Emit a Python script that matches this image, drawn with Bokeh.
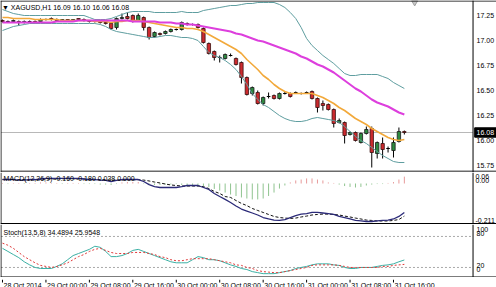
from bokeh.plotting import figure
from bokeh.layouts import column
from bokeh.models import Range1d, Span
from bokeh.core.properties import value
from bokeh.embed import file_html
from bokeh.resources import INLINE

FONT = "Liberation Sans"
FS = "7px"

# ---------------- data (hourly bars, 28 Oct 16:00 .. 31 Oct 18:00) ----------------
bars = list(range(75))
opens = [17.20,17.19,17.19,17.19,17.18,17.19,17.19,17.19,17.21,17.22,
         17.21,17.20,17.21,17.20,17.22,17.21,17.20,17.19,17.19,17.18,
         17.17,17.13,17.22,17.24,17.25,17.20,17.23,17.13,17.04,17.07,
         17.07,17.09,17.11,17.11,17.17,17.16,17.16,17.12,16.97,16.89,
         16.83,16.82,16.85,16.82,16.78,16.63,16.47,16.48,16.37,16.44,
         16.45,16.42,16.47,16.47,16.48,16.47,16.48,16.49,16.42,16.37,
         16.36,16.31,16.18,16.18,16.06,16.08,15.98,16.07,16.12,15.87,
         15.97,15.92,15.90,15.99,16.09]
highs = [17.21,17.20,17.21,17.20,17.20,17.20,17.20,17.22,17.22,17.23,
         17.22,17.21,17.21,17.21,17.22,17.22,17.20,17.20,17.19,17.19,
         17.17,17.23,17.27,17.28,17.26,17.27,17.24,17.14,17.09,17.08,
         17.10,17.12,17.12,17.19,17.18,17.17,17.17,17.13,16.98,16.90,
         16.85,16.87,16.87,16.83,16.79,16.64,16.54,16.50,16.44,16.48,
         16.46,16.48,16.49,16.48,16.49,16.48,16.49,16.50,16.43,16.40,
         16.37,16.32,16.22,16.19,16.09,16.09,16.08,16.14,16.14,15.99,
         16.03,15.94,16.03,16.13,16.10]
lows = [17.18,17.18,17.18,17.15,17.17,17.18,17.18,17.18,17.20,17.20,
        17.19,17.19,17.19,17.19,17.20,17.19,17.18,17.18,17.17,17.16,
        17.11,17.11,17.21,17.21,17.18,17.19,17.10,17.01,17.03,17.05,
        17.06,17.08,17.10,17.10,17.15,17.15,17.12,16.97,16.86,16.80,
        16.78,16.81,16.84,16.75,16.57,16.45,16.45,16.36,16.35,16.42,
        16.41,16.41,16.46,16.43,16.47,16.46,16.47,16.41,16.28,16.30,
        16.30,16.13,16.17,15.97,16.05,15.99,15.97,16.06,15.73,15.82,
        15.82,15.88,15.83,15.98,16.06]
closes = [17.19,17.19,17.20,17.18,17.19,17.19,17.18,17.21,17.21,17.21,
          17.20,17.21,17.20,17.21,17.21,17.20,17.19,17.19,17.18,17.17,
          17.12,17.22,17.23,17.22,17.19,17.25,17.13,17.03,17.08,17.06,
          17.09,17.11,17.11,17.18,17.16,17.16,17.13,16.98,16.87,16.83,
          16.83,16.86,16.85,16.76,16.63,16.46,16.53,16.37,16.43,16.44,
          16.42,16.47,16.47,16.44,16.48,16.47,16.48,16.42,16.33,16.35,
          16.31,16.17,16.20,16.05,16.08,16.00,16.07,16.11,15.88,15.98,
          15.91,15.92,15.98,16.09,16.08]
bb_upper = [17.31,17.29,17.27,17.26,17.25,17.25,17.25,17.25,17.25,17.25,
            17.25,17.25,17.25,17.25,17.25,17.25,17.23,17.21,17.21,17.21,
            17.22,17.24,17.26,17.28,17.29,17.29,17.29,17.29,17.28,17.28,
            17.28,17.28,17.28,17.29,17.28,17.28,17.28,17.30,17.31,17.32,
            17.33,17.34,17.35,17.35,17.36,17.37,17.37,17.38,17.38,17.38,
            17.38,17.36,17.33,17.28,17.22,17.13,17.02,16.95,16.90,16.85,
            16.81,16.77,16.72,16.67,16.65,16.65,16.66,16.66,16.66,16.66,
            16.64,16.62,16.58,16.55,16.52]
bb_lower = [17.10,17.12,17.14,17.15,17.16,17.17,17.17,17.17,17.17,17.17,
            17.17,17.17,17.17,17.17,17.17,17.17,17.17,17.17,17.16,17.14,
            17.11,17.09,17.08,17.07,17.06,17.05,17.04,17.03,17.03,17.04,
            17.05,17.05,17.04,17.03,17.03,17.02,17.00,16.94,16.88,16.85,
            16.83,16.80,16.76,16.71,16.64,16.56,16.47,16.41,16.36,16.33,
            16.29,16.25,16.22,16.20,16.19,16.19,16.20,16.22,16.23,16.22,
            16.21,16.20,16.18,16.14,16.09,16.04,16.00,15.97,15.93,15.89,
            15.85,15.82,15.79,15.78,15.78]
ma_fast = [17.23,17.23,17.22,17.22,17.22,17.22,17.21,17.21,17.21,17.21,
           17.21,17.20,17.20,17.20,17.20,17.20,17.20,17.19,17.19,17.19,
           17.18,17.19,17.19,17.20,17.20,17.20,17.19,17.18,17.17,17.16,
           17.15,17.14,17.13,17.13,17.12,17.12,17.11,17.09,17.06,17.03,
           17.00,16.97,16.94,16.91,16.87,16.81,16.76,16.71,16.65,16.61,
           16.56,16.52,16.49,16.47,16.47,16.47,16.47,16.47,16.45,16.43,
           16.40,16.37,16.33,16.30,16.26,16.22,16.19,16.16,16.12,16.09,
           16.06,16.03,16.01,16.00,16.01]
ma_slow = [17.18,17.18,17.18,17.18,17.18,17.18,17.18,17.18,17.18,17.18,
           17.19,17.19,17.19,17.19,17.20,17.20,17.20,17.20,17.20,17.20,
           17.20,17.20,17.20,17.20,17.19,17.19,17.19,17.19,17.19,17.18,
           17.18,17.18,17.17,17.17,17.16,17.16,17.15,17.14,17.13,17.12,
           17.11,17.10,17.09,17.07,17.06,17.04,17.02,17.00,16.99,16.97,
           16.95,16.93,16.91,16.89,16.87,16.84,16.82,16.79,16.76,16.74,
           16.71,16.68,16.64,16.60,16.56,16.52,16.49,16.45,16.41,16.38,
           16.36,16.34,16.31,16.28,16.26]
macd_main = [0.022,0.022,0.022,0.019,0.019,0.022,0.022,0.025,0.028,0.028,
             0.028,0.028,0.028,0.028,0.028,0.025,0.022,0.022,0.019,0.017,
             0.011,0.017,0.022,0.022,0.022,0.022,0.011,-0.006,-0.017,-0.022,
             -0.022,-0.022,-0.022,-0.017,-0.011,-0.011,-0.011,-0.022,-0.033,-0.055,
             -0.072,-0.088,-0.105,-0.124,-0.141,-0.152,-0.163,-0.174,-0.188,-0.196,
             -0.202,-0.204,-0.199,-0.188,-0.177,-0.169,-0.166,-0.160,-0.160,-0.163,
             -0.166,-0.171,-0.182,-0.188,-0.196,-0.204,-0.207,-0.210,-0.210,-0.207,
             -0.204,-0.202,-0.196,-0.182,-0.160]
macd_signal = [0.022,0.022,0.022,0.022,0.022,0.022,0.022,0.023,0.024,0.025,
               0.025,0.026,0.026,0.026,0.026,0.025,0.024,0.023,0.022,0.021,
               0.019,0.019,0.019,0.020,0.020,0.021,0.019,0.014,0.008,0.003,
               -0.003,-0.008,-0.011,-0.014,-0.014,-0.014,-0.014,-0.017,-0.028,-0.044,
               -0.055,-0.072,-0.077,-0.094,-0.110,-0.122,-0.138,-0.149,-0.160,-0.171,
               -0.182,-0.188,-0.191,-0.193,-0.191,-0.185,-0.180,-0.174,-0.171,-0.169,
               -0.169,-0.171,-0.174,-0.180,-0.185,-0.191,-0.196,-0.202,-0.204,-0.207,
               -0.207,-0.207,-0.204,-0.199,-0.180]
macd_hist = [0.003,-0.003,0.003,0.003,-0.003,0.003,0.003,0.006,0.006,0.003,
             0.003,-0.003,0.003,0.003,0.003,-0.003,-0.003,-0.003,-0.006,-0.006,
             -0.008,-0.003,0.006,0.008,0.008,0.008,-0.003,-0.006,-0.008,-0.008,
             -0.006,-0.006,-0.003,-0.008,-0.008,-0.008,-0.011,-0.014,-0.019,-0.030,
             -0.039,-0.050,-0.061,-0.069,-0.077,-0.083,-0.088,-0.088,-0.083,-0.069,
             -0.050,-0.028,-0.011,0.006,0.017,0.022,0.028,0.028,0.022,0.017,
             0.006,0.003,-0.006,-0.014,-0.019,-0.022,-0.019,-0.011,-0.006,-0.003,
             -0.003,0.003,0.008,0.022,0.038]
stoch_main = [57,51,45,39,31,25,20,18,18,18,
              22,27,35,43,47,51,55,61,59,51,
              41,41,43,47,53,55,51,47,43,39,
              35,31,29,29,29,35,41,39,35,35,
              33,29,25,22,18,16,12,10,8,8,
              8,10,12,14,18,20,22,25,27,27,
              27,25,24,20,18,18,20,20,20,22,
              24,25,27,31,34.49]
stoch_signal = [67,63,57,49,41,35,29,24,22,20,
                22,25,29,35,41,45,51,55,57,53,
                49,47,47,47,49,49,49,47,45,41,
                39,35,33,33,35,37,37,37,37,35,
                33,31,29,25,24,20,18,14,12,11,
                10,10,12,14,16,18,20,24,25,25,
                25,25,24,22,20,20,20,20,20,20,
                22,22,24,25,25.95]

price_ticks = [15.75, 16.00, 16.25, 16.50, 16.75, 17.00, 17.25]
price_tick_labels = ["15.75", "16.00", "16.25", "16.50", "16.75", "17.00", "17.25"]
last_price = 16.08
last_price_label = "16.08"
macd_tick_labels = ["0.06", "0.00", "-0.211"]
stoch_levels = [80, 20]
stoch_tick_labels = ["100", "80", "20", "0"]
time_tick_bars = [0, 8, 16, 24, 32, 40, 48, 56, 64, 72]
time_tick_labels = ["28 Oct 2014", "29 Oct 00:00", "29 Oct 08:00", "29 Oct 16:00",
                    "30 Oct 00:00", "30 Oct 08:00", "30 Oct 16:00", "31 Oct 00:00",
                    "31 Oct 08:00", "31 Oct 16:00"]
main_title = "\u25bc XAGUSD,H1  16.09 16.10 16.06 16.08"
macd_title = "MACD(12,26,9) -0.160 -0.180 0.038 0.000"
stoch_title = "Stoch(13,5,8) 34.4894 25.9548"

# ---------------- layout (positions, in bar units on x) ----------------
W = 496
xr = Range1d(-0.368, 90.97)     # full canvas width; price scale drawn inside
X_LEFT_BORDER = -0.28
X_RIGHT_BORDER = 86.65
X_SCALE_TEXT = 87.3
X_SCALE_TEXT_MACD = 87.1
X_BOX_LEFT = 86.95
X_BOX_RIGHT = 91.5


def make_fig(height, y0, y1):
    p = figure(width=W, height=height, x_range=xr, y_range=Range1d(y0, y1),
               output_backend="svg", toolbar_location=None,
               x_axis_location=None, y_axis_location=None, min_border=0)
    p.xgrid.visible = False
    p.ygrid.visible = False
    p.background_fill_color = "white"
    p.border_fill_color = "white"
    p.outline_line_color = None
    return p


def scale_text(p, x, ys, labels, color="black"):
    p.text(x=[x] * len(ys), y=ys, text=labels, text_align="left", text_baseline="middle",
           text_font=value(FONT), text_font_size=value(FS), text_color=color)


def title_text(p, x, y, label):
    p.text(x=[x], y=[y], text=[label], text_align="left", text_baseline="middle",
           text_font=value(FONT), text_font_size=value(FS), text_color="black")


def borders(p, top, bottom, top_w=1, bottom_w=1, top_c="black", bottom_c="black"):
    if top is not None:
        p.add_layout(Span(location=top, dimension="width", line_color=top_c, line_width=top_w))
    if bottom is not None:
        p.add_layout(Span(location=bottom, dimension="width", line_color=bottom_c, line_width=bottom_w))
    p.add_layout(Span(location=X_LEFT_BORDER, dimension="height", line_color="black", line_width=1))
    p.add_layout(Span(location=X_RIGHT_BORDER, dimension="height", line_color="black", line_width=1))


# ---------------- main price pane (canvas y 0..172) ----------------
main = make_fig(172, 15.68, 17.40)
borders(main, 17.395, 15.69, bottom_w=2, bottom_c="#6a6a6a")

main.segment(x0=[X_LEFT_BORDER], y0=[last_price], x1=[X_RIGHT_BORDER], y1=[last_price],
             line_color="#b8b8b8", line_width=1)

main.segment(x0=bars, y0=lows, x1=bars, y1=highs, line_color="black", line_width=1)
bull = [i for i in bars if closes[i] > opens[i] + 0.004]
bear = [i for i in bars if closes[i] < opens[i] - 0.004]
doji = [i for i in bars if abs(closes[i] - opens[i]) <= 0.004]
main.vbar(x=bull, width=0.62, top=[closes[i] for i in bull], bottom=[opens[i] for i in bull],
          fill_color="#2d8a40", line_color="#1a1a1a", line_width=0.8)
main.vbar(x=bear, width=0.62, top=[opens[i] for i in bear], bottom=[closes[i] for i in bear],
          fill_color="#cc2a2e", line_color="#3a1010", line_width=0.8)
main.segment(x0=[i - 0.33 for i in doji], y0=[closes[i] for i in doji],
             x1=[i + 0.33 for i in doji], y1=[closes[i] for i in doji],
             line_color="black", line_width=1)

main.line(bars, bb_upper, line_color="#5f9ea0", line_width=1)
main.line(bars, bb_lower, line_color="#5f9ea0", line_width=1)
main.line(bars, ma_fast, line_color="#f2a93b", line_width=1.6)
main.line(bars, ma_slow, line_color="#dd3fdd", line_width=2)

title_text(main, -0.1, 17.33, main_title)
main.scatter(x=[75.9], y=[17.38], marker="inverted_triangle", size=6,
             fill_color="#c8c8c8", line_color="#a0a0a0")

scale_text(main, X_SCALE_TEXT, price_ticks, price_tick_labels)
main.quad(left=[X_BOX_LEFT], right=[X_BOX_RIGHT], top=[last_price + 0.047],
          bottom=[last_price - 0.047], fill_color="black", line_color="black")
scale_text(main, X_SCALE_TEXT, [last_price], [last_price_label], color="white")

# ---------------- MACD pane (canvas y 172..224) ----------------
macd = make_fig(52, -0.2265, 0.0608)
borders(macd, None, -0.2238, bottom_w=2)
pos = [i for i in bars if macd_hist[i] > 0]
neg = [i for i in bars if macd_hist[i] <= 0]
macd.segment(x0=pos, y0=[0] * len(pos), x1=pos, y1=[macd_hist[i] for i in pos],
             line_color="#e79a9a", line_width=1)
macd.segment(x0=neg, y0=[0] * len(neg), x1=neg, y1=[macd_hist[i] for i in neg],
             line_color="#8fc48f", line_width=1)
macd.line(bars, macd_signal, line_color="#111111", line_width=1, line_dash="3 2")
macd.line(bars, macd_main, line_color="#2b2a78", line_width=1.3)
title_text(macd, 0.2, 0.027, macd_title)
scale_text(macd, X_SCALE_TEXT_MACD, [0.0387, 0.0193, -0.2044], macd_tick_labels)

# ---------------- Stochastic pane (canvas y 224..277) ----------------
stoch = make_fig(53, 0.58, 103.1)
borders(stoch, None, 1.55)
for lv in stoch_levels:
    stoch.segment(x0=[X_LEFT_BORDER], y0=[lv], x1=[X_RIGHT_BORDER], y1=[lv],
                  line_color="#a8a8a8", line_width=1, line_dash="2 2")
stoch.line(bars, stoch_main, line_color="#3bb0a4", line_width=1)
stoch.line(bars, stoch_signal, line_color="#e03a3a", line_width=1, line_dash="2 2")
title_text(stoch, 0.2, 87, stoch_title)
scale_text(stoch, X_SCALE_TEXT, [93.4, 85.7, 23.8, 16.1], stoch_tick_labels)

# ---------------- time axis strip (canvas y 277..287) ----------------
strip = make_fig(10, 0, 10)
strip.segment(x0=time_tick_bars, y0=[10] * len(time_tick_bars),
              x1=time_tick_bars, y1=[7] * len(time_tick_bars),
              line_color="black", line_width=1)
strip.text(x=[b + 0.2 for b in time_tick_bars], y=[4.5] * len(time_tick_bars),
           text=time_tick_labels, text_align="left", text_baseline="middle",
           text_font=value(FONT), text_font_size=value(FS), text_color="black")

layout = column(main, macd, stoch, strip, spacing=0)
open("out.html", "w").write(file_html(layout, INLINE))
